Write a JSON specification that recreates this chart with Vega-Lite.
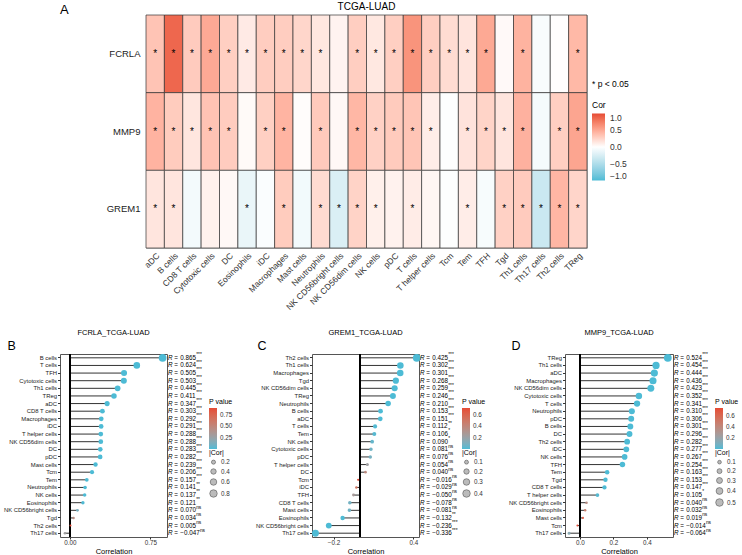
{
  "$schema": "https://vega.github.io/schema/vega-lite/v6.json",
  "padding": {"top": 1, "left": 2, "right": 0, "bottom": 0},
  "config": {
    "font": "Liberation Sans",
    "view": {"stroke": "#555", "strokeWidth": 1},
    "text": {"color": "#000"},
    "axis": {"grid": false, "domain": false, "labelColor": "#333", "tickColor": "#333", "titleFontWeight": "normal", "titleColor": "#000"},
    "legend": {"titleFontWeight": "normal", "labelColor": "#333", "titleColor": "#000", "labelOverlap": false},
    "title": {"fontWeight": "normal", "color": "#000"}
  },
  "datasets": {
    "cor": [
      {"gene": "FCRLA", "cell": "aDC", "r": 0.347, "p": 5e-16, "sig": "***"},
      {"gene": "FCRLA", "cell": "B cells", "r": 0.865, "p": 1e-150, "sig": "***"},
      {"gene": "FCRLA", "cell": "CD8 T cells", "r": 0.303, "p": 2e-12, "sig": "***"},
      {"gene": "FCRLA", "cell": "Cytotoxic cells", "r": 0.503, "p": 2e-34, "sig": "***"},
      {"gene": "FCRLA", "cell": "DC", "r": 0.283, "p": 6e-11, "sig": "***"},
      {"gene": "FCRLA", "cell": "Eosinophils", "r": 0.121, "p": 0.0061, "sig": "**"},
      {"gene": "FCRLA", "cell": "iDC", "r": 0.291, "p": 1.7e-11, "sig": "***"},
      {"gene": "FCRLA", "cell": "Macrophages", "r": 0.292, "p": 1.5e-11, "sig": "***"},
      {"gene": "FCRLA", "cell": "Mast cells", "r": 0.239, "p": 4e-8, "sig": "***"},
      {"gene": "FCRLA", "cell": "Neutrophils", "r": 0.141, "p": 0.0014, "sig": "**"},
      {"gene": "FCRLA", "cell": "NK CD56bright cells", "r": 0.070, "p": 0.113, "sig": "ns"},
      {"gene": "FCRLA", "cell": "NK CD56dim cells", "r": 0.288, "p": 2.7e-11, "sig": "***"},
      {"gene": "FCRLA", "cell": "NK cells", "r": 0.137, "p": 0.0019, "sig": "**"},
      {"gene": "FCRLA", "cell": "pDC", "r": 0.282, "p": 7e-11, "sig": "***"},
      {"gene": "FCRLA", "cell": "T cells", "r": 0.624, "p": 2e-56, "sig": "***"},
      {"gene": "FCRLA", "cell": "T helper cells", "r": 0.288, "p": 2.7e-11, "sig": "***"},
      {"gene": "FCRLA", "cell": "Tcm", "r": 0.206, "p": 2.5e-6, "sig": "***"},
      {"gene": "FCRLA", "cell": "Tem", "r": 0.157, "p": 0.00036, "sig": "***"},
      {"gene": "FCRLA", "cell": "TFH", "r": 0.505, "p": 1e-34, "sig": "***"},
      {"gene": "FCRLA", "cell": "Tgd", "r": 0.034, "p": 0.442, "sig": "ns"},
      {"gene": "FCRLA", "cell": "Th1 cells", "r": 0.445, "p": 2e-26, "sig": "***"},
      {"gene": "FCRLA", "cell": "Th17 cells", "r": -0.047, "p": 0.288, "sig": "ns"},
      {"gene": "FCRLA", "cell": "Th2 cells", "r": 0.005, "p": 0.910, "sig": "ns"},
      {"gene": "FCRLA", "cell": "TReg", "r": 0.411, "p": 2e-22, "sig": "***"},

      {"gene": "MMP9", "cell": "aDC", "r": 0.444, "p": 3e-26, "sig": "***"},
      {"gene": "MMP9", "cell": "B cells", "r": 0.301, "p": 3e-12, "sig": "***"},
      {"gene": "MMP9", "cell": "CD8 T cells", "r": 0.147, "p": 0.0008, "sig": "***"},
      {"gene": "MMP9", "cell": "Cytotoxic cells", "r": 0.352, "p": 2e-16, "sig": "***"},
      {"gene": "MMP9", "cell": "DC", "r": 0.296, "p": 8e-12, "sig": "***"},
      {"gene": "MMP9", "cell": "Eosinophils", "r": 0.032, "p": 0.470, "sig": "ns"},
      {"gene": "MMP9", "cell": "iDC", "r": 0.277, "p": 2e-10, "sig": "***"},
      {"gene": "MMP9", "cell": "Macrophages", "r": 0.436, "p": 3e-25, "sig": "***"},
      {"gene": "MMP9", "cell": "Mast cells", "r": 0.019, "p": 0.668, "sig": "ns"},
      {"gene": "MMP9", "cell": "Neutrophils", "r": 0.310, "p": 7e-13, "sig": "***"},
      {"gene": "MMP9", "cell": "NK CD56bright cells", "r": 0.040, "p": 0.366, "sig": "ns"},
      {"gene": "MMP9", "cell": "NK CD56dim cells", "r": 0.423, "p": 1e-23, "sig": "***"},
      {"gene": "MMP9", "cell": "NK cells", "r": 0.267, "p": 8e-10, "sig": "***"},
      {"gene": "MMP9", "cell": "pDC", "r": 0.306, "p": 1.3e-12, "sig": "***"},
      {"gene": "MMP9", "cell": "T cells", "r": 0.341, "p": 1.8e-15, "sig": "***"},
      {"gene": "MMP9", "cell": "T helper cells", "r": 0.105, "p": 0.017, "sig": "*"},
      {"gene": "MMP9", "cell": "Tcm", "r": -0.014, "p": 0.752, "sig": "ns"},
      {"gene": "MMP9", "cell": "Tem", "r": 0.163, "p": 0.0002, "sig": "***"},
      {"gene": "MMP9", "cell": "TFH", "r": 0.254, "p": 5e-9, "sig": "***"},
      {"gene": "MMP9", "cell": "Tgd", "r": 0.153, "p": 0.0005, "sig": "***"},
      {"gene": "MMP9", "cell": "Th1 cells", "r": 0.454, "p": 1e-27, "sig": "***"},
      {"gene": "MMP9", "cell": "Th17 cells", "r": -0.064, "p": 0.148, "sig": "ns"},
      {"gene": "MMP9", "cell": "Th2 cells", "r": 0.282, "p": 7e-11, "sig": "***"},
      {"gene": "MMP9", "cell": "TReg", "r": 0.524, "p": 1e-37, "sig": "***"},

      {"gene": "GREM1", "cell": "aDC", "r": 0.151, "p": 0.0006, "sig": "***"},
      {"gene": "GREM1", "cell": "B cells", "r": 0.153, "p": 0.0005, "sig": "***"},
      {"gene": "GREM1", "cell": "CD8 T cells", "r": -0.078, "p": 0.078, "sig": "ns"},
      {"gene": "GREM1", "cell": "Cytotoxic cells", "r": 0.081, "p": 0.067, "sig": "ns"},
      {"gene": "GREM1", "cell": "DC", "r": 0.040, "p": 0.366, "sig": "ns"},
      {"gene": "GREM1", "cell": "Eosinophils", "r": -0.132, "p": 0.0027, "sig": "**"},
      {"gene": "GREM1", "cell": "iDC", "r": -0.029, "p": 0.512, "sig": "ns"},
      {"gene": "GREM1", "cell": "Macrophages", "r": 0.301, "p": 3e-12, "sig": "***"},
      {"gene": "GREM1", "cell": "Mast cells", "r": -0.081, "p": 0.067, "sig": "ns"},
      {"gene": "GREM1", "cell": "Neutrophils", "r": 0.210, "p": 1.6e-6, "sig": "***"},
      {"gene": "GREM1", "cell": "NK CD56bright cells", "r": -0.236, "p": 6e-8, "sig": "***"},
      {"gene": "GREM1", "cell": "NK CD56dim cells", "r": 0.259, "p": 2.6e-9, "sig": "***"},
      {"gene": "GREM1", "cell": "NK cells", "r": 0.090, "p": 0.042, "sig": "*"},
      {"gene": "GREM1", "cell": "pDC", "r": 0.076, "p": 0.086, "sig": "ns"},
      {"gene": "GREM1", "cell": "T cells", "r": 0.112, "p": 0.0095, "sig": "**"},
      {"gene": "GREM1", "cell": "T helper cells", "r": 0.054, "p": 0.222, "sig": "ns"},
      {"gene": "GREM1", "cell": "Tcm", "r": -0.016, "p": 0.718, "sig": "ns"},
      {"gene": "GREM1", "cell": "Tem", "r": 0.106, "p": 0.016, "sig": "*"},
      {"gene": "GREM1", "cell": "TFH", "r": -0.050, "p": 0.259, "sig": "ns"},
      {"gene": "GREM1", "cell": "Tgd", "r": 0.268, "p": 7e-10, "sig": "***"},
      {"gene": "GREM1", "cell": "Th1 cells", "r": 0.302, "p": 3e-12, "sig": "***"},
      {"gene": "GREM1", "cell": "Th17 cells", "r": -0.336, "p": 5e-15, "sig": "***"},
      {"gene": "GREM1", "cell": "Th2 cells", "r": 0.425, "p": 6e-24, "sig": "***"},
      {"gene": "GREM1", "cell": "TReg", "r": 0.246, "p": 1.6e-8, "sig": "***"}
    ]
  },
  "spacing": 16,
  "resolve": {"scale": {"color": "independent", "size": "independent"}},
  "vconcat": [
    {
      "spacing": 35,
      "resolve": {"scale": {"color": "independent", "size": "independent"}},
      "hconcat": [
        {
          "width": 10,
          "height": 233,
          "view": {"stroke": null},
          "title": {"text": "A", "anchor": "start", "fontSize": 13, "offset": -2},
          "data": {"values": [{"label": ""}]},
          "mark": {"type": "text"},
          "encoding": {"text": {"field": "label", "type": "nominal"}}
        },
        {
          "width": 441,
          "height": 233,
          "view": {"stroke": "#BBBBBB"},
          "title": {"text": "TCGA-LUAD", "fontSize": 10, "offset": 3},
          "data": {"name": "cor"},
          "encoding": {
            "x": {
              "field": "cell", "type": "nominal", "title": null,
              "sort": ["aDC", "B cells", "CD8 T cells", "Cytotoxic cells", "DC", "Eosinophils", "iDC", "Macrophages", "Mast cells", "Neutrophils", "NK CD56bright cells", "NK CD56dim cells", "NK cells", "pDC", "T cells", "T helper cells", "Tcm", "Tem", "TFH", "Tgd", "Th1 cells", "Th17 cells", "Th2 cells", "TReg"],
              "axis": {"labelAngle": -45, "ticks": false, "labelFontSize": 8.5, "labelPadding": 3}
            },
            "y": {
              "field": "gene", "type": "nominal", "title": null,
              "sort": ["FCRLA", "MMP9", "GREM1"],
              "axis": {"ticks": false, "labelFontSize": 9.5, "labelPadding": 6, "labelColor": "#222"}
            }
          },
          "layer": [
            {
              "mark": {"type": "rect", "stroke": "#333", "strokeWidth": 0.7},
              "encoding": {
                "color": {
                  "field": "r", "type": "quantitative",
                  "scale": {"domain": [-1, 0, 1], "range": ["#4DBBD5", "#FFFFFF", "#E64B35"], "interpolate": "lab"},
                  "legend": {
                    "orient": "none", "legendX": 446, "legendY": 65,
                    "title": ["* p < 0.05", "Cor"], "titleFontSize": 8.5, "titleLineHeight": 21, "titlePadding": 4,
                    "gradientLength": 67, "gradientThickness": 13, "labelFontSize": 8.5, "labelOffset": 5,
                    "values": [-1, -0.5, 0, 0.5, 1], "format": ".1f", "direction": "vertical"
                  }
                }
              }
            },
            {
              "transform": [{"filter": "datum.p < 0.05"}],
              "mark": {"type": "text", "fontSize": 10, "baseline": "middle", "color": "#000"},
              "encoding": {"text": {"value": "*"}}
            }
          ]
        }
      ]
    },
    {
      "spacing": 20,
      "resolve": {"scale": {"color": "independent", "size": "independent"}},
      "hconcat": [
        {
          "width": 107,
          "height": 183,
          "title": {"text": "FCRLA_TCGA-LUAD", "fontSize": 7.5, "offset": 3},
          "data": {"name": "cor"},
          "transform": [{"filter": "datum.gene === 'FCRLA'"}, {"calculate": "abs(datum.r)", "as": "abs_r"}],
          "encoding": {
            "y": {
              "field": "cell", "type": "nominal", "title": "B",
              "sort": ["B cells", "T cells", "TFH", "Cytotoxic cells", "Th1 cells", "TReg", "aDC", "CD8 T cells", "Macrophages", "iDC", "T helper cells", "NK CD56dim cells", "DC", "pDC", "Mast cells", "Tcm", "Tem", "Neutrophils", "NK cells", "Eosinophils", "NK CD56bright cells", "Tgd", "Th2 cells", "Th17 cells"],
              "axis": {"labelFontSize": 5.9, "tickSize": 2.5, "labelPadding": 1, "labelColor": "#222", "titleAngle": 0, "titleAlign": "left", "titleBaseline": "bottom", "titleFontSize": 12.5, "titleX": -53, "titleY": -2}
            }
          },
          "layer": [
            {
              "mark": {"type": "rule", "color": "#333", "strokeWidth": 1},
              "encoding": {
                "x": {
                  "field": "r", "type": "quantitative", "title": "Correlation",
                  "scale": {"domain": [-0.093, 0.906], "nice": false, "zero": false},
                  "axis": {"values": [0, 0.25, 0.5, 0.75], "format": ".2f", "labelFontSize": 6.3, "titleFontSize": 7.5, "tickSize": 2, "labelPadding": 0.5, "titlePadding": 1.5}
                },
                "x2": {"datum": 0}
              }
            },
            {
              "mark": {"type": "rule", "color": "#000", "strokeWidth": 1},
              "encoding": {"x": {"datum": 0, "type": "quantitative"}, "y": {"value": 0}, "y2": {"value": 183}}
            },
            {
              "mark": {"type": "circle", "opacity": 1},
              "encoding": {
                "x": {"field": "r", "type": "quantitative"},
                "color": {
                  "field": "p", "type": "quantitative",
                  "scale": {"range": ["#4DBBD5", "#E64B35"], "interpolate": "lab"},
                  "legend": {"orient": "none", "legendX": 149, "legendY": 44, "title": "P value", "titleFontSize": 7, "titlePadding": 3, "gradientLength": 41, "gradientThickness": 8, "labelFontSize": 6.3, "labelOffset": 3, "values": [0.25, 0.5, 0.75], "format": ".2f", "direction": "vertical"}
                },
                "size": {
                  "field": "abs_r", "type": "quantitative",
                  "scale": {"range": [4, 60], "zero": false},
                  "legend": {"orient": "none", "legendX": 149, "legendY": 95, "title": "|Cor|", "titleFontSize": 7, "titlePadding": 3, "labelFontSize": 6.3, "labelOffset": 3, "rowPadding": 1, "values": [0.2, 0.4, 0.6, 0.8], "format": ".1f",
                    "symbolFillColor": "#BBBBBB", "symbolStrokeColor": "#555", "symbolStrokeWidth": 0.6,
                    "encode": {"symbols": {"update": {"fill": {"value": "#BBBBBB"}, "stroke": {"value": "#555"}, "strokeWidth": {"value": 0.6}, "opacity": {"value": 1}}}}}
                }
              }
            },
            {"mark": {"type": "text", "color": "#000", "align": "left", "baseline": "middle", "fontSize": 6.3, "fontStyle": "italic", "dx": 1}, "encoding": {"x": {"datum": 0.906, "type": "quantitative"}, "text": {"value": "R"}}},
            {"mark": {"type": "text", "color": "#000", "align": "left", "baseline": "middle", "fontSize": 6.3, "dx": 7.3}, "encoding": {"x": {"datum": 0.906, "type": "quantitative"}, "text": {"value": "="}}},
            {"mark": {"type": "text", "color": "#000", "align": "left", "baseline": "middle", "fontSize": 6.3, "dx": 13.3}, "encoding": {"x": {"datum": 0.906, "type": "quantitative"}, "text": {"field": "r", "type": "quantitative", "format": ".3f"}}},
            {"transform": [{"filter": "datum.r >= 0"}], "mark": {"type": "text", "color": "#000", "align": "left", "baseline": "middle", "fontSize": 4.8, "dx": 29.2, "dy": -2.6}, "encoding": {"x": {"datum": 0.906, "type": "quantitative"}, "text": {"field": "sig", "type": "nominal"}}},
            {"transform": [{"filter": "datum.r < 0"}], "mark": {"type": "text", "color": "#000", "align": "left", "baseline": "middle", "fontSize": 4.8, "dx": 32.9, "dy": -2.6}, "encoding": {"x": {"datum": 0.906, "type": "quantitative"}, "text": {"field": "sig", "type": "nominal"}}}
          ]
        },
        {
          "width": 107,
          "height": 183,
          "title": {"text": "GREM1_TCGA-LUAD", "fontSize": 7.5, "offset": 3},
          "data": {"name": "cor"},
          "transform": [{"filter": "datum.gene === 'GREM1'"}, {"calculate": "abs(datum.r)", "as": "abs_r"}],
          "encoding": {
            "y": {
              "field": "cell", "type": "nominal", "title": "C",
              "sort": ["Th2 cells", "Th1 cells", "Macrophages", "Tgd", "NK CD56dim cells", "TReg", "Neutrophils", "B cells", "aDC", "T cells", "Tem", "NK cells", "Cytotoxic cells", "pDC", "T helper cells", "DC", "Tcm", "iDC", "TFH", "CD8 T cells", "Mast cells", "Eosinophils", "NK CD56bright cells", "Th17 cells"],
              "axis": {"labelFontSize": 5.9, "tickSize": 2.5, "labelPadding": 1, "labelColor": "#222", "titleAngle": 0, "titleAlign": "left", "titleBaseline": "bottom", "titleFontSize": 12.5, "titleX": -55, "titleY": -2}
            }
          },
          "layer": [
            {
              "mark": {"type": "rule", "color": "#333", "strokeWidth": 1},
              "encoding": {
                "x": {
                  "field": "r", "type": "quantitative", "title": "Correlation",
                  "scale": {"domain": [-0.362, 0.442], "nice": false, "zero": false},
                  "axis": {"values": [-0.2, 0, 0.2, 0.4], "format": ".1f", "labelFontSize": 6.3, "titleFontSize": 7.5, "tickSize": 2, "labelPadding": 0.5, "titlePadding": 1.5}
                },
                "x2": {"datum": 0}
              }
            },
            {
              "mark": {"type": "rule", "color": "#000", "strokeWidth": 1},
              "encoding": {"x": {"datum": 0, "type": "quantitative"}, "y": {"value": 0}, "y2": {"value": 183}}
            },
            {
              "mark": {"type": "circle", "opacity": 1},
              "encoding": {
                "x": {"field": "r", "type": "quantitative"},
                "color": {
                  "field": "p", "type": "quantitative",
                  "scale": {"range": ["#4DBBD5", "#E64B35"], "interpolate": "lab"},
                  "legend": {"orient": "none", "legendX": 150, "legendY": 44, "title": "P value", "titleFontSize": 7, "titlePadding": 3, "gradientLength": 41, "gradientThickness": 8, "labelFontSize": 6.3, "labelOffset": 3, "values": [0.2, 0.4, 0.6], "format": ".1f", "direction": "vertical"}
                },
                "size": {
                  "field": "abs_r", "type": "quantitative",
                  "scale": {"range": [4, 60], "zero": false},
                  "legend": {"orient": "none", "legendX": 150, "legendY": 95, "title": "|Cor|", "titleFontSize": 7, "titlePadding": 3, "labelFontSize": 6.3, "labelOffset": 3, "rowPadding": 1, "values": [0.1, 0.2, 0.3, 0.4], "format": ".1f",
                    "symbolFillColor": "#BBBBBB", "symbolStrokeColor": "#555", "symbolStrokeWidth": 0.6,
                    "encode": {"symbols": {"update": {"fill": {"value": "#BBBBBB"}, "stroke": {"value": "#555"}, "strokeWidth": {"value": 0.6}, "opacity": {"value": 1}}}}}
                }
              }
            },
            {"mark": {"type": "text", "color": "#000", "align": "left", "baseline": "middle", "fontSize": 6.3, "fontStyle": "italic", "dx": 1}, "encoding": {"x": {"datum": 0.442, "type": "quantitative"}, "text": {"value": "R"}}},
            {"mark": {"type": "text", "color": "#000", "align": "left", "baseline": "middle", "fontSize": 6.3, "dx": 7.3}, "encoding": {"x": {"datum": 0.442, "type": "quantitative"}, "text": {"value": "="}}},
            {"mark": {"type": "text", "color": "#000", "align": "left", "baseline": "middle", "fontSize": 6.3, "dx": 13.3}, "encoding": {"x": {"datum": 0.442, "type": "quantitative"}, "text": {"field": "r", "type": "quantitative", "format": ".3f"}}},
            {"transform": [{"filter": "datum.r >= 0"}], "mark": {"type": "text", "color": "#000", "align": "left", "baseline": "middle", "fontSize": 4.8, "dx": 29.2, "dy": -2.6}, "encoding": {"x": {"datum": 0.442, "type": "quantitative"}, "text": {"field": "sig", "type": "nominal"}}},
            {"transform": [{"filter": "datum.r < 0"}], "mark": {"type": "text", "color": "#000", "align": "left", "baseline": "middle", "fontSize": 4.8, "dx": 32.9, "dy": -2.6}, "encoding": {"x": {"datum": 0.442, "type": "quantitative"}, "text": {"field": "sig", "type": "nominal"}}}
          ]
        },
        {
          "width": 108,
          "height": 183,
          "title": {"text": "MMP9_TCGA-LUAD", "fontSize": 7.5, "offset": 3},
          "data": {"name": "cor"},
          "transform": [{"filter": "datum.gene === 'MMP9'"}, {"calculate": "abs(datum.r)", "as": "abs_r"}],
          "encoding": {
            "y": {
              "field": "cell", "type": "nominal", "title": "D",
              "sort": ["TReg", "Th1 cells", "aDC", "Macrophages", "NK CD56dim cells", "Cytotoxic cells", "T cells", "Neutrophils", "pDC", "B cells", "DC", "Th2 cells", "iDC", "NK cells", "TFH", "Tem", "Tgd", "CD8 T cells", "T helper cells", "NK CD56bright cells", "Eosinophils", "Mast cells", "Tcm", "Th17 cells"],
              "axis": {"labelFontSize": 5.9, "tickSize": 2.5, "labelPadding": 1, "labelColor": "#222", "titleAngle": 0, "titleAlign": "left", "titleBaseline": "bottom", "titleFontSize": 12.5, "titleX": -54, "titleY": -2}
            }
          },
          "layer": [
            {
              "mark": {"type": "rule", "color": "#333", "strokeWidth": 1},
              "encoding": {
                "x": {
                  "field": "r", "type": "quantitative", "title": "Correlation",
                  "scale": {"domain": [-0.088, 0.555], "nice": false, "zero": false},
                  "axis": {"values": [0, 0.1, 0.2, 0.3, 0.4, 0.5], "format": ".1f", "labelFontSize": 6.3, "titleFontSize": 7.5, "tickSize": 2, "labelPadding": 0.5, "titlePadding": 1.5}
                },
                "x2": {"datum": 0}
              }
            },
            {
              "mark": {"type": "rule", "color": "#000", "strokeWidth": 1},
              "encoding": {"x": {"datum": 0, "type": "quantitative"}, "y": {"value": 0}, "y2": {"value": 183}}
            },
            {
              "mark": {"type": "circle", "opacity": 1},
              "encoding": {
                "x": {"field": "r", "type": "quantitative"},
                "color": {
                  "field": "p", "type": "quantitative",
                  "scale": {"range": ["#4DBBD5", "#E64B35"], "interpolate": "lab"},
                  "legend": {"orient": "none", "legendX": 150, "legendY": 44, "title": "P value", "titleFontSize": 7, "titlePadding": 3, "gradientLength": 41, "gradientThickness": 8, "labelFontSize": 6.3, "labelOffset": 3, "values": [0.2, 0.4, 0.6], "format": ".1f", "direction": "vertical"}
                },
                "size": {
                  "field": "abs_r", "type": "quantitative",
                  "scale": {"range": [4, 60], "zero": false},
                  "legend": {"orient": "none", "legendX": 150, "legendY": 95, "title": "|Cor|", "titleFontSize": 7, "titlePadding": 3, "labelFontSize": 6.3, "labelOffset": 3, "rowPadding": 1, "values": [0.1, 0.2, 0.3, 0.4, 0.5], "format": ".1f",
                    "symbolFillColor": "#BBBBBB", "symbolStrokeColor": "#555", "symbolStrokeWidth": 0.6,
                    "encode": {"symbols": {"update": {"fill": {"value": "#BBBBBB"}, "stroke": {"value": "#555"}, "strokeWidth": {"value": 0.6}, "opacity": {"value": 1}}}}}
                }
              }
            },
            {"mark": {"type": "text", "color": "#000", "align": "left", "baseline": "middle", "fontSize": 6.3, "fontStyle": "italic", "dx": 1}, "encoding": {"x": {"datum": 0.555, "type": "quantitative"}, "text": {"value": "R"}}},
            {"mark": {"type": "text", "color": "#000", "align": "left", "baseline": "middle", "fontSize": 6.3, "dx": 7.3}, "encoding": {"x": {"datum": 0.555, "type": "quantitative"}, "text": {"value": "="}}},
            {"mark": {"type": "text", "color": "#000", "align": "left", "baseline": "middle", "fontSize": 6.3, "dx": 13.3}, "encoding": {"x": {"datum": 0.555, "type": "quantitative"}, "text": {"field": "r", "type": "quantitative", "format": ".3f"}}},
            {"transform": [{"filter": "datum.r >= 0"}], "mark": {"type": "text", "color": "#000", "align": "left", "baseline": "middle", "fontSize": 4.8, "dx": 29.2, "dy": -2.6}, "encoding": {"x": {"datum": 0.555, "type": "quantitative"}, "text": {"field": "sig", "type": "nominal"}}},
            {"transform": [{"filter": "datum.r < 0"}], "mark": {"type": "text", "color": "#000", "align": "left", "baseline": "middle", "fontSize": 4.8, "dx": 32.9, "dy": -2.6}, "encoding": {"x": {"datum": 0.555, "type": "quantitative"}, "text": {"field": "sig", "type": "nominal"}}}
          ]
        }
      ]
    }
  ]
}
